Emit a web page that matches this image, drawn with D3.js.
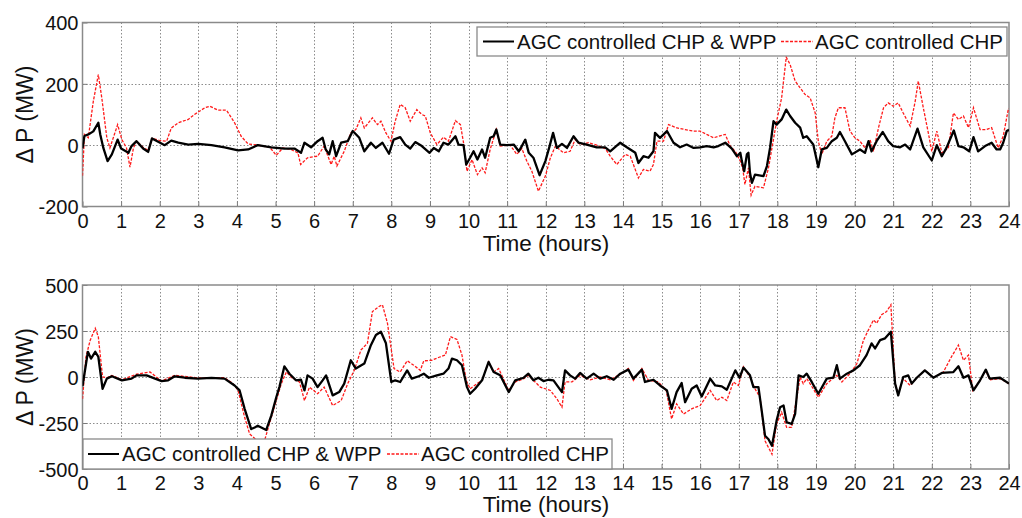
<!DOCTYPE html>
<html>
<head>
<meta charset="utf-8">
<script src="https://cdn.jsdelivr.net/npm/d3@7"></script>
<style>
  html, body { margin: 0; padding: 0; background: #fff; }
  svg { display: block; font-family: "Liberation Sans", Arial, sans-serif; }
</style>
</head>
<body>
<svg id="chart" width="1022" height="518"></svg>
<script>
// Axis ticks
const hourTicks = d3.range(0, 25);
const topYTicks = [-200, 0, 200, 400];
const bottomYTicks = [-500, -250, 0, 250, 500];
const seriesNames = ["AGC controlled CHP & WPP", "AGC controlled CHP"];
const xLabel = "Time (hours)";
const yLabel = "\u0394 P (MW)";

// Upper panel: CHP & WPP under AGC
const topWppT = [0,0.05,0.15,0.28,0.41,0.46,0.54,0.65,0.76,0.91,1.0,1.19,1.27,1.4,1.57,1.7,1.8,1.96,2.13,2.3,2.48,2.74,3.0,3.34,3.68,4.03,4.29,4.54,4.89,5.23,5.49,5.66,5.75,5.92,6.09,6.22,6.3,6.39,6.48,6.57,6.7,6.87,7.0,7.17,7.3,7.47,7.6,7.77,7.94,8.06,8.23,8.36,8.49,8.62,8.79,8.99,9.1,9.23,9.35,9.48,9.66,9.74,9.87,9.94,10.04,10.13,10.23,10.35,10.43,10.56,10.65,10.72,10.82,10.99,11.17,11.3,11.38,11.47,11.56,11.68,11.84,11.99,12.1,12.19,12.29,12.42,12.55,12.72,12.85,13.06,13.32,13.54,13.67,13.93,14.1,14.32,14.4,14.53,14.66,14.79,14.83,14.96,15.14,15.31,15.48,15.65,15.83,16.0,16.17,16.35,16.47,16.65,16.82,16.95,17.04,17.08,17.14,17.21,17.25,17.29,17.34,17.42,17.64,17.73,17.81,17.9,17.98,18.11,18.23,18.33,18.46,18.59,18.67,18.76,18.93,19.06,19.15,19.28,19.41,19.54,19.62,19.75,19.93,20.14,20.27,20.36,20.44,20.57,20.73,20.87,21.0,21.18,21.31,21.44,21.63,21.78,22.0,22.13,22.26,22.38,22.57,22.69,22.82,22.97,23.08,23.2,23.38,23.55,23.68,23.77,23.85,23.94,24];
const topWppV = [-10,30,35,45,73,35,-9,-52,-30,18,-11,-25,-3,13,-11,-22,22,11,0,15,8,2,4,0,-7,-17,-14,0,-7,-11,-11,-25,8,-7,13,24,-14,-30,13,-36,8,13,46,24,-20,8,-9,8,-28,18,26,2,-11,10,-3,-25,-9,-20,8,2,29,2,0,-63,-41,-20,-47,-14,-41,24,29,51,2,0,2,-20,-3,18,-25,-41,-98,-52,-3,40,-9,4,-9,29,8,2,-7,-7,-20,8,-7,-25,-58,-36,-41,-20,40,24,46,8,-7,2,-9,-7,-3,-7,-3,8,-11,-36,-25,-52,-85,-30,-25,-90,-123,-96,-101,-68,-9,78,67,84,116,95,73,57,24,29,2,-72,-14,-9,13,24,43,13,-30,-14,-25,13,-20,13,43,13,-3,-7,2,-14,54,-7,-50,0,-36,-9,48,-3,-7,-20,26,-20,-3,8,-14,-14,8,46,50];

// Upper panel: CHP only under AGC
const topChpT = [0,0.05,0.15,0.28,0.41,0.5,0.63,0.71,0.91,1.02,1.14,1.23,1.32,1.4,1.57,1.7,1.81,2.0,2.18,2.3,2.48,2.74,2.9,3.17,3.3,3.51,3.73,3.94,4.11,4.29,4.54,4.85,5.02,5.19,5.4,5.58,5.65,5.83,6.09,6.26,6.44,6.52,6.59,6.78,6.95,7.08,7.21,7.3,7.51,7.64,7.73,7.86,7.99,8.1,8.23,8.36,8.49,8.66,8.79,8.88,9.01,9.18,9.35,9.48,9.66,9.79,9.87,9.96,10.09,10.23,10.35,10.43,10.56,10.72,10.82,11.08,11.25,11.38,11.51,11.64,11.81,11.99,12.12,12.25,12.46,12.63,12.76,12.89,13.11,13.32,13.54,13.67,13.84,14.06,14.19,14.4,14.53,14.7,14.79,14.88,15.05,15.18,15.4,15.61,15.83,16.0,16.17,16.35,16.47,16.65,16.78,16.91,17.04,17.1,17.16,17.25,17.32,17.42,17.64,17.77,17.86,17.98,18.11,18.23,18.33,18.46,18.59,18.72,18.85,18.98,19.06,19.15,19.28,19.41,19.49,19.58,19.75,19.88,20.01,20.14,20.27,20.4,20.49,20.62,20.75,20.87,21.0,21.13,21.26,21.44,21.57,21.65,21.78,21.91,22.0,22.13,22.26,22.43,22.56,22.69,22.82,22.95,23.08,23.25,23.42,23.55,23.72,23.85,23.98,24];
const topChpV = [-100,35,24,143,230,154,24,-9,67,18,-9,-72,-9,13,-7,-17,22,15,13,56,73,84,100,122,127,114,114,73,29,4,0,-7,-33,-9,-14,-25,-63,-41,-36,-3,-63,-36,-68,-20,40,51,89,56,89,67,78,40,13,78,133,122,78,116,100,95,40,2,26,13,80,67,8,-85,-47,-96,-74,-90,-14,51,-3,0,-30,-11,-52,-85,-150,-101,-41,-3,-25,-20,18,2,8,0,-11,-36,-63,-30,-36,-107,-79,-85,-63,13,13,67,56,51,46,46,35,24,29,35,-3,-20,-52,-74,-128,-74,-163,-134,-139,-74,-9,78,154,287,263,209,187,165,154,105,13,-30,13,29,89,122,122,46,24,13,-9,18,-20,57,122,138,127,138,105,62,143,209,122,40,-20,46,-25,-9,105,84,95,57,122,51,51,57,-9,29,116,120];

// Lower panel: CHP & WPP under AGC
const botWppT = [0,0.14,0.22,0.33,0.41,0.52,0.63,0.76,1.02,1.27,1.4,1.66,1.88,2.05,2.22,2.39,2.65,2.99,3.34,3.68,3.94,4.07,4.2,4.37,4.46,4.54,4.76,4.89,5.02,5.1,5.23,5.36,5.53,5.66,5.75,5.83,5.96,6.09,6.22,6.31,6.48,6.65,6.78,6.95,7.08,7.3,7.47,7.6,7.73,7.86,8.0,8.1,8.23,8.41,8.53,8.71,8.84,8.97,9.18,9.35,9.48,9.57,9.7,9.83,9.96,10.04,10.17,10.35,10.52,10.65,10.82,11.04,11.21,11.43,11.55,11.68,11.81,11.94,12.07,12.2,12.42,12.5,12.63,12.76,12.89,13.06,13.24,13.41,13.58,13.76,13.93,14.14,14.27,14.49,14.57,14.79,14.96,15.14,15.26,15.39,15.52,15.61,15.78,15.91,16.04,16.26,16.39,16.56,16.69,16.91,17.02,17.12,17.29,17.38,17.51,17.6,17.68,17.77,17.86,17.98,18.07,18.16,18.24,18.37,18.46,18.55,18.67,18.76,18.89,19.06,19.28,19.45,19.54,19.62,19.8,19.97,20.14,20.31,20.44,20.53,20.66,20.79,20.94,21.05,21.13,21.26,21.39,21.48,21.61,21.82,22.04,22.26,22.56,22.69,22.82,22.95,23.08,23.25,23.4,23.5,23.77,24];
const botWppV = [-50,137,100,137,110,-64,-9,4,-18,-9,9,9,-9,-22,-18,4,-4,-9,-5,-9,-46,-73,-173,-283,-274,-265,-288,-210,-110,-55,58,18,-18,-15,-73,9,-9,-55,-18,9,-100,-82,-36,91,46,73,173,228,246,183,-27,-18,-27,36,-9,4,18,-4,9,18,46,100,91,64,-55,-91,-64,-18,82,27,9,-82,-18,-4,18,-18,-4,-22,-15,-18,-82,36,9,-9,22,-9,18,-9,4,-15,18,40,-9,40,-27,-15,-46,-73,-173,-82,-33,-137,-64,-46,-106,-9,-46,-51,-69,36,-4,51,9,-55,-55,-192,-319,-338,-374,-237,-164,-155,-246,-255,-201,9,0,18,-27,-91,-9,-4,64,-9,18,36,64,119,183,155,200,210,246,-36,-100,0,9,-36,-4,36,-4,22,27,58,-4,9,-73,-18,40,-9,-4,-36];

// Lower panel: CHP only under AGC
const botChpT = [0,0.09,0.2,0.33,0.41,0.52,0.63,0.76,1.02,1.4,1.75,2.05,2.39,2.99,3.68,3.9,4.03,4.2,4.33,4.5,4.72,4.84,5.02,5.15,5.28,5.45,5.62,5.75,5.88,6.09,6.26,6.48,6.7,6.87,7.04,7.21,7.38,7.51,7.68,7.77,7.9,8.07,8.23,8.41,8.58,8.75,8.84,9.05,9.27,9.4,9.53,9.7,9.83,9.94,10.04,10.22,10.35,10.52,10.65,10.78,11.04,11.21,11.43,11.55,11.86,12.12,12.29,12.42,12.5,12.68,12.89,13.15,13.41,13.67,13.93,14.14,14.27,14.49,14.66,14.92,15.12,15.26,15.39,15.57,15.78,16.0,16.26,16.43,16.56,16.69,16.86,16.99,17.12,17.29,17.42,17.55,17.68,17.86,17.98,18.11,18.24,18.37,18.46,18.59,18.67,18.76,18.93,19.06,19.28,19.54,19.67,19.88,20.06,20.23,20.36,20.49,20.57,20.7,20.83,20.94,21.05,21.13,21.26,21.44,21.61,21.82,22.04,22.3,22.51,22.69,22.82,22.95,23.06,23.25,23.4,23.5,23.77,24];
const botChpV = [-119,110,200,265,219,0,-4,9,-15,15,27,-22,9,-5,-4,-36,-73,-219,-310,-341,-343,-255,-128,-36,27,-9,-27,-128,-55,-91,-55,-155,-128,-36,36,146,183,356,383,392,292,46,27,88,64,36,88,91,110,119,219,204,119,-18,-64,-36,-18,82,27,46,-73,-27,-9,9,-55,-73,-119,-164,-27,-27,9,-15,0,-15,15,46,-18,46,-18,-27,-73,-228,-146,-201,-173,-155,-73,-128,-110,-128,-27,-46,55,0,-64,-110,-347,-420,-255,-192,-274,-274,-164,0,-36,-9,-64,-110,-36,9,-27,18,73,200,256,310,292,338,356,392,-36,-91,-9,-46,-4,36,-4,27,110,173,91,119,-73,-18,36,-15,-9,-36];

const svg = d3.select("#chart");
const FONT = '"Liberation Sans", Arial, sans-serif';

const panels = [
  { top: 22.5, bottom: 206.5, domain: [-200, 400], yTicks: topYTicks,
    wpp: [topWppT, topWppV], chp: [topChpT, topChpV],
    xTitleY: 251, legend: { x: 477, y: 27, w: 530, h: 29, lineA: 483, textA: 517, lineB: 781, textB: 815 } },
  { top: 285, bottom: 469, domain: [-500, 500], yTicks: bottomYTicks,
    wpp: [botWppT, botWppV], chp: [botChpT, botChpV],
    xTitleY: 512, legend: { x: 83, y: 439, w: 529, h: 30, lineA: 88, textA: 122, lineB: 387, textB: 421 } }
];

const left = 82.5, right = 1009;
const x = d3.scaleLinear().domain([0, 24]).range([left, right]);
const plain = d => String(d);

panels.forEach((p, i) => {
  const y = d3.scaleLinear().domain(p.domain).range([p.bottom, p.top]);
  const g = svg.append("g");
  const clipId = "clip" + i;
  svg.append("clipPath").attr("id", clipId)
    .append("rect").attr("x", left).attr("y", p.top).attr("width", right - left).attr("height", p.bottom - p.top);

  // dotted grid
  const grid = g.append("g").attr("stroke", "#8c8c8c").attr("stroke-width", 1).attr("stroke-dasharray", "1.5,2");
  grid.selectAll("line.v").data(hourTicks.slice(1, -1)).join("line")
    .attr("x1", d => Math.round(x(d)) + 0.5).attr("x2", d => Math.round(x(d)) + 0.5)
    .attr("y1", p.top).attr("y2", p.bottom);
  grid.selectAll("line.h").data(p.yTicks.slice(1, -1)).join("line")
    .attr("y1", d => Math.round(y(d)) + 0.5).attr("y2", d => Math.round(y(d)) + 0.5)
    .attr("x1", left).attr("x2", right);

  // axes with inward ticks
  const xAxis = d3.axisBottom(x).tickValues(hourTicks).tickSize(-5).tickPadding(7).tickFormat(plain);
  const yAxis = d3.axisLeft(y).tickValues(p.yTicks).tickSize(-5).tickPadding(4).tickFormat(plain);
  const gx = g.append("g").attr("transform", `translate(0,${p.bottom})`).call(xAxis);
  const gy = g.append("g").attr("transform", `translate(${left},0)`).call(yAxis);
  [gx, gy].forEach(a => {
    a.select(".domain").remove();
    a.selectAll(".tick line").attr("stroke", "#7a7a7a");
    a.selectAll("text").attr("font-size", 20).attr("font-family", FONT).attr("fill", "#111");
  });
  gy.selectAll("text").attr("dy", "0.36em");

  // frame
  g.append("rect").attr("x", left).attr("y", p.top).attr("width", right - left).attr("height", p.bottom - p.top)
    .attr("fill", "none").attr("stroke", "#8a8a8a").attr("stroke-width", 1.5);

  const line = d3.line().x(d => x(d[0])).y(d => y(d[1]));
  const pts = (s) => s[0].map((t, k) => [t, s[1][k]]);
  const lines = g.append("g").attr("clip-path", `url(#${clipId})`);
  lines.append("path").datum(pts(p.chp)).attr("d", line)
    .attr("fill", "none").attr("stroke", "#ff1a1a").attr("stroke-width", 1.3).attr("stroke-dasharray", "3,1.5");
  lines.append("path").datum(pts(p.wpp)).attr("d", line)
    .attr("fill", "none").attr("stroke", "#000").attr("stroke-width", 2.3).attr("stroke-linejoin", "round");

  // legend
  const L = p.legend;
  const lg = g.append("g");
  lg.append("rect").attr("x", L.x).attr("y", L.y).attr("width", L.w).attr("height", L.h)
    .attr("fill", "#fff").attr("stroke", "#8a8a8a").attr("stroke-width", 1.3);
  const mid = L.y + L.h / 2;
  lg.append("line").attr("x1", L.lineA).attr("x2", L.lineA + 31).attr("y1", mid).attr("y2", mid)
    .attr("stroke", "#000").attr("stroke-width", 2);
  lg.append("text").attr("x", L.textA).attr("y", mid + 7).attr("font-size", 20.5).attr("font-family", FONT)
    .attr("fill", "#111").text(seriesNames[0]);
  lg.append("line").attr("x1", L.lineB).attr("x2", L.lineB + 32).attr("y1", mid).attr("y2", mid)
    .attr("stroke", "#ff1a1a").attr("stroke-width", 1.3).attr("stroke-dasharray", "3,1.5");
  lg.append("text").attr("x", L.textB).attr("y", mid + 7).attr("font-size", 20.5).attr("font-family", FONT)
    .attr("fill", "#111").text(seriesNames[1]);

  // axis titles
  g.append("text").attr("x", 546).attr("y", p.xTitleY).attr("text-anchor", "middle")
    .attr("font-size", 22.5).attr("font-family", FONT).attr("fill", "#111").text(xLabel);
  const yc = (p.top + p.bottom) / 2;
  g.append("text").attr("transform", `translate(33,${yc}) rotate(-90)`).attr("text-anchor", "middle")
    .attr("font-size", 23).attr("font-family", FONT).attr("fill", "#111").text(yLabel);
});
</script>
</body>
</html>
